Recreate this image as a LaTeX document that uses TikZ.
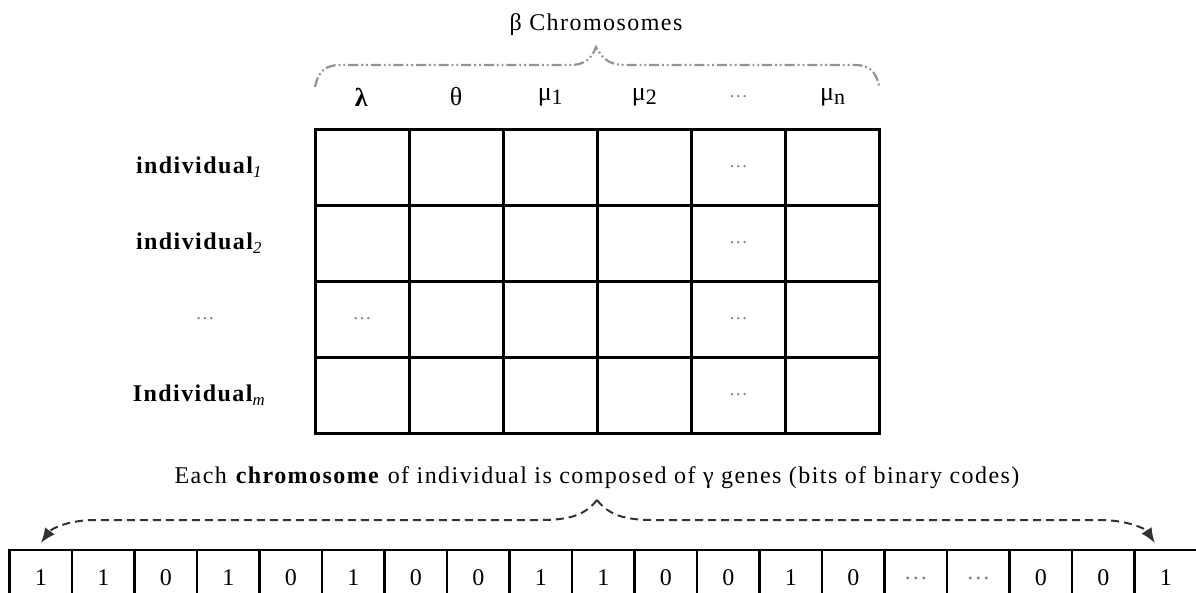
\documentclass[tikz,border=0pt]{standalone}
\usepackage{fontspec}
\setmainfont{Liberation Serif}[LetterSpace=6]
\usepackage{tikz}
\usetikzlibrary{positioning, arrows.meta}

\begin{document}
\begin{tikzpicture}[
  x=1pt, y=-1pt,
  font=\fontsize{24}{28}\selectfont,
  >={Latex[length=15pt, width=12pt]},
  every node/.style={inner sep=0pt, outer sep=0pt},
  cell/.style  ={draw, line width=3pt, minimum width=94.1pt, minimum height=76pt},
  bit/.style   ={draw, line width=2.5pt, minimum width=62.5pt, minimum height=56pt},
  head/.style  ={font=\fontsize{26}{30}\selectfont},
  rowlab/.style={font=\fontsize{24}{28}\selectfont\bfseries},
  gap/.style   ={text=gray, font=\fontsize{19}{22}\selectfont},
  brace/.style ={draw=gray!85, line width=2.2pt,
                 dash pattern=on 10pt off 3pt on 1.8pt off 3pt on 1.8pt off 3pt},
  spread/.style={->, draw=gray!40!black, line width=2pt,
                 dash pattern=on 8pt off 5pt},
]
\useasboundingbox (0,0) rectangle (1196,592);
\clip (0,0) rectangle (1196,592);

% ---- Population grid: m individuals x beta chromosomes -------------------
\foreach \r in {1,...,4}
  \foreach \c in {1,...,6}
    \node[cell] (cell-\r-\c) at ({315+94.1*(\c-0.5)}, {129+76*(\r-0.5)}) {};
\foreach \r/\c in {1/5, 2/5, 3/1, 3/5, 4/5}
  \node[gap] (dots-\r-\c) at (cell-\r-\c) {…};

% column headers
\newcommand{\idx}[1]{\raisebox{-4pt}{\fontsize{22}{24}\selectfont #1}}
\coordinate (hdline) at (0,97);
\foreach \c/\t in {1/{\textbf{λ}}, 2/θ, 3/{μ\idx{1}}, 4/{μ\idx{2}},
                   5/{\textcolor{gray}{\fontsize{19}{22}\selectfont …}}, 6/{μ\idx{n}}}
  \node[head] (hd-\c) at (cell-1-\c |- hdline) {\t};

% row labels
\coordinate (labx) at (199,0);
\node[rowlab] (lab-1) at (labx |- cell-1-1) {individual\textsubscript{\mdseries\itshape 1}};
\node[rowlab] (lab-2) at (labx |- cell-2-1) {individual\textsubscript{\mdseries\itshape 2}};
\node[gap]    (lab-3) at ([xshift=6pt]labx |- cell-3-1) {…};
\node[rowlab] (lab-4) at (labx |- cell-4-1) {Individual\textsubscript{\mdseries\itshape m}};

% brace over the chromosome columns
\node (title) at (596,25) {β Chromosomes};
\draw[brace] ([yshift=42pt]cell-1-1.north west)
  .. controls (318,72) and (325,65) .. (340,65) -- (570,65)
  .. controls (585,65) and (592,58) .. (title.south |- 0,47)
  .. controls (602,58) and (609,65) .. (624,65) -- (855,65)
  .. controls (870,65) and (876,72) .. ([yshift=42pt]cell-1-6.north east);

% ---- One chromosome as gamma binary genes -------------------------------
\node (caption) at (597,478)
  {Each \textbf{chromosome} of individual is composed of γ genes (bits of binary codes)};
\coordinate (split) at (597,500);

\foreach \v [count=\i] in {1,1,0,1,0,1,0,0,1,1,0,0,1,0,
                           {\textcolor{gray}{…}},{\textcolor{gray}{…}},0,0,1}
  \node[bit] (bit-\i) at ({9.6+62.5*(\i-0.5)}, 578) {\v};

\draw[spread] (split) .. controls (585,515) and (570,520) .. (540,520) -- (95,520)
  .. controls (70,520) and (52,528) .. ([yshift=7pt]bit-1.north);
\draw[spread] (split) .. controls (609,515) and (624,520) .. (654,520) -- (1100,520)
  .. controls (1125,520) and (1145,528) .. ([xshift=-11pt, yshift=7pt]bit-19.north);
\end{tikzpicture}
\end{document}
